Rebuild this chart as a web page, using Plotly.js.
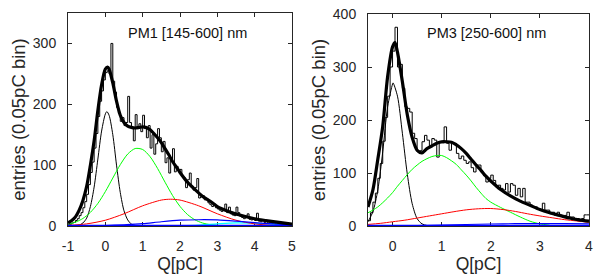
<!DOCTYPE html>
<html>
<head>
<meta charset="utf-8">
<script src="https://cdn.plot.ly/plotly-3.0.1.min.js"></script>
<style>html,body{margin:0;padding:0;background:#fff;}#chart{width:601px;height:275px;}</style>
</head>
<body>
<div id="chart"></div>
<script>
// ---------- PM1 [145-600] nm ----------
const histL_start = -1, histL_width = 0.05;
const histL_counts = [2,3,5,6,9,12,17,22,30,40,
  52,68,88,105,128,152,180,205,222,240,
  252,255,250,300,238,220,195,185,172,178,
  165,170,213,170,160,140,183,160,168,155,
  182,160,145,165,128,150,118,135,160,145,
  122,139,104,112,87,109,127,89,98,91,
  93,82,79,63,76,87,65,59,63,78,
  46,48,50,43,45,38,35,32,36,30,
  28,26,24,27,36,22,31,20,18,17,
  31,22,16,14,12,16,20,11,10,12,
  9,21,8,7,9,6,7,5,6,4,
  5,3,4,3,2,3,2,2,1,1];
const fitL_x = [-1,-0.9,-0.8,-0.7,-0.6,-0.5,-0.4,-0.3,-0.2,-0.1,0,0.06,0.1,0.2,0.3,0.4,0.5,0.6,0.7,0.8,0.9,1.0,1.1,1.2,1.3,1.4,1.5,1.6,1.7,1.8,1.9,2.0,2.2,2.4,2.6,2.8,3.0,3.3,3.6,4.0,4.3,4.7,5.0];
const fitL_y = [5,9,15,26,42,65,100,140,190,232,258,261,258,235,205,182,170,164,162,161,162,163,162,158,152,145,137,127,117,106,97,88,72,60,49,41,32,24,18,12,9,5.5,3];
const pedL_x = [-1,-0.9,-0.8,-0.7,-0.6,-0.5,-0.4,-0.3,-0.2,-0.1,0,0.04,0.1,0.2,0.3,0.4,0.5,0.6,0.7,0.8,1.0];
const pedL_y = [0,0.1,0.4,1.5,5,13,32,64,110,156,184,188,182,150,100,55,25,10,3,0.8,0];
const pe1L_x = [-1,-0.8,-0.6,-0.4,-0.2,0,0.2,0.4,0.6,0.8,1.0,1.2,1.4,1.6,1.8,2.0,2.2,2.4,2.6,2.8,3.0];
const pe1L_y = [2.9,6.3,12.4,22.4,37.1,56.5,78.8,100.8,118.3,127.3,125.7,113.8,94.5,71.9,50.2,32.2,18.9,10.2,5.0,2.3,0.95];
const pe2L_x = [-1,-0.5,0,0.5,1,1.5,1.75,2,2.5,3,3.5,4,4.5,5];
const pe2L_y = [1,3.5,9.5,20.1,33.2,42.6,44,42.6,33.2,20.1,9.5,3.5,1,0.2];
const pe3L_x = [-1,-0.5,0,0.5,1,1.5,2,2.5,3,3.5,4,4.5,5];
const pe3L_y = [0,0.2,0.8,2,3.8,7,9.5,10.3,10,8,5.5,3.5,2];
const pe4L_x = [2,2.5,3,3.5,4,4.5,5];
const pe4L_y = [0.5,1.5,3.5,5,4.5,3,1.5];

// ---------- PM3 [250-600] nm ----------
const histR_start = -0.5, histR_width = 0.05;
const histR_counts = [10,25,45,62,90,118,160,205,245,300,
  330,375,300,305,260,225,222,215,175,165,
  140,142,159,171,162,149,165,162,130,157,
  157,187,156,143,156,156,137,127,132,124,
  118,121,110,102,115,115,102,95,83,90,
  96,86,74,77,71,68,80,64,80,77,
  58,71,55,71,45,45,39,36,36,33,
  30,43,30,30,23,26,20,26,20,17,
  20,26,17,17,14,14,12,14,21,21];
const fitR_x = [-0.5,-0.4,-0.3,-0.2,-0.1,0,0.05,0.1,0.2,0.3,0.4,0.5,0.6,0.7,0.8,0.9,1.0,1.1,1.2,1.3,1.4,1.5,1.6,1.7,1.8,1.9,2.0,2.2,2.4,2.6,2.8,3.0,3.2,3.4,3.6,3.8,4.0];
const fitR_y = [36,68,126,188,282,338,346,328,272,210,167,143,138,146,151,156,159,159,158,153,146,137,126,115,105,94,85,69,57,47,39,31,25,20,15,11.5,9];
const pedR_x = [-0.5,-0.4,-0.3,-0.2,-0.1,0,0.01,0.1,0.2,0.3,0.4,0.5,0.6,0.7,0.8];
const pedR_y = [8,27,68,140,225,268,270,245,175,98,42,14,4,1,0];
const pe1R_x = [-0.5,-0.4,-0.3,-0.2,-0.1,0,0.1,0.2,0.3,0.4,0.5,0.6,0.7,0.8,0.9,1.0,1.1,1.2,1.3,1.4,1.5,1.6,1.7,1.8,1.9,2.0,2.2,2.4,2.6,2.8,3.0,3.2];
const pe1R_y = [25,30,36,44,53,63,75,86,97,107,115,122,127,131,133,133,129,123,116,106,96,85,73,62,52,45,35,26,17,9,4,1.5];
const pe2R_x = [-0.5,-0.25,0,0.25,0.5,0.75,1,1.25,1.5,1.75,2,2.25,2.5,2.75,3,3.25,3.5,3.75,4];
const pe2R_y = [3,5,8,11,15,19,23,27,30.5,32.5,33,31,27.5,23,19,15.5,12,9.5,7];
const pe3R_x = [-0.5,0,0.5,1,1.5,2,2.5,3,3.5,4];
const pe3R_y = [0.2,0.4,0.8,1.6,2.8,3.8,4.4,4.6,4.4,4.0];

function edges(start, w, counts){
  const xs = [], ys = [];
  for (let i = 0; i < counts.length; i++){ xs.push(+(start + i*w).toFixed(4)); ys.push(counts[i]); }
  xs.push(+(start + counts.length*w).toFixed(4)); ys.push(counts[counts.length-1]);
  return {xs, ys};
}
const hL = edges(histL_start, histL_width, histL_counts);
const hR = edges(histR_start, histR_width, histR_counts);

function ln(x, y, color, width, xa, ya, shape){
  return {x, y, type:'scatter', mode:'lines', xaxis:xa, yaxis:ya, hoverinfo:'skip',
    line:{color, width, shape: shape || 'spline', smoothing: 0.8}, showlegend:false};
}
const traces = [
  ln(hL.xs, hL.ys, '#000', 1, 'x', 'y', 'hv'),
  ln(pedL_x, pedL_y, '#000', 1, 'x', 'y'),
  ln(pe1L_x, pe1L_y, '#00ff00', 1, 'x', 'y'),
  ln(pe4L_x, pe4L_y, '#00ffff', 1.2, 'x', 'y'),
  ln(pe2L_x, pe2L_y, '#ff0000', 1, 'x', 'y'),
  ln(pe3L_x, pe3L_y, '#0000ff', 1.2, 'x', 'y'),
  ln([-1,5], [0,0], '#0000ff', 2.5, 'x', 'y', 'linear'),
  ln(fitL_x, fitL_y, '#000', 3.2, 'x', 'y'),

  ln(hR.xs, hR.ys, '#000', 1, 'x2', 'y2', 'hv'),
  ln(pedR_x, pedR_y, '#000', 1, 'x2', 'y2'),
  ln(pe1R_x, pe1R_y, '#00ff00', 1, 'x2', 'y2'),
  ln(pe2R_x, pe2R_y, '#ff0000', 1, 'x2', 'y2'),
  ln(pe3R_x, pe3R_y, '#0000ff', 1.2, 'x2', 'y2'),
  ln([-0.5,4], [0,0], '#0000ff', 2.5, 'x2', 'y2', 'linear'),
  ln(fitR_x, fitR_y, '#000', 3.2, 'x2', 'y2')
];

const fontFam = 'Liberation Sans, Arial, sans-serif';
const txt = '#262626';
function xax(domain, range, tickvals){
  return {domain, range, tickvals, ticktext: tickvals.map(String), showgrid:false, zeroline:false,
    showline:true, mirror:'ticks', linecolor:'#262626', linewidth:1, ticks:'inside', ticklen:4,
    tickcolor:'#262626', tickfont:{family:fontFam, size:14, color:txt}, ticklabelstandoff:7,
    layer:'below traces', fixedrange:true,
    title:{text:'Q[pC]', font:{family:fontFam, size:17.5, color:txt}, standoff:3}};
}
function yax(domain, range, tickvals, anchor){
  return {domain, range, tickvals, anchor, showgrid:false, zeroline:false,
    showline:true, mirror:'ticks', linecolor:'#262626', linewidth:1, ticks:'inside', ticklen:4,
    tickcolor:'#262626', tickfont:{family:fontFam, size:14, color:txt}, ticklabelstandoff:8,
    layer:'below traces', fixedrange:true,
    title:{text:'entries (0.05pC bin)', font:{family:fontFam, size:18.5, color:txt}, standoff:2}};
}
const layout = {
  width:601, height:275, margin:{l:0, r:0, t:0, b:0}, paper_bgcolor:'#fff', plot_bgcolor:'#fff',
  showlegend:false,
  xaxis: xax([68/601, 292/601], [-1,5], [-1,0,1,2,3,4,5]),
  yaxis: yax([49/275, 262/275], [0,350], [0,100,200,300], 'x'),
  xaxis2: Object.assign(xax([368/601, 589/601], [-0.5,4], [0,1,2,3,4]), {anchor:'y2'}),
  yaxis2: yax([49/275, 261/275], [0,400], [0,100,200,300,400], 'x2'),
  annotations:[
    {text:'PM1 [145-600] nm', xref:'paper', yref:'paper', x:187/601, y:(275-33)/275, xanchor:'center', yanchor:'middle', showarrow:false, font:{family:fontFam, size:14.5, color:'#111'}},
    {text:'PM3 [250-600] nm', xref:'paper', yref:'paper', x:487/601, y:(275-33)/275, xanchor:'center', yanchor:'middle', showarrow:false, font:{family:fontFam, size:14.5, color:'#111'}}
  ]
};
layout.xaxis.anchor = 'y';
Plotly.newPlot('chart', traces, layout, {staticPlot:true, displayModeBar:false});
</script>
</body>
</html>
